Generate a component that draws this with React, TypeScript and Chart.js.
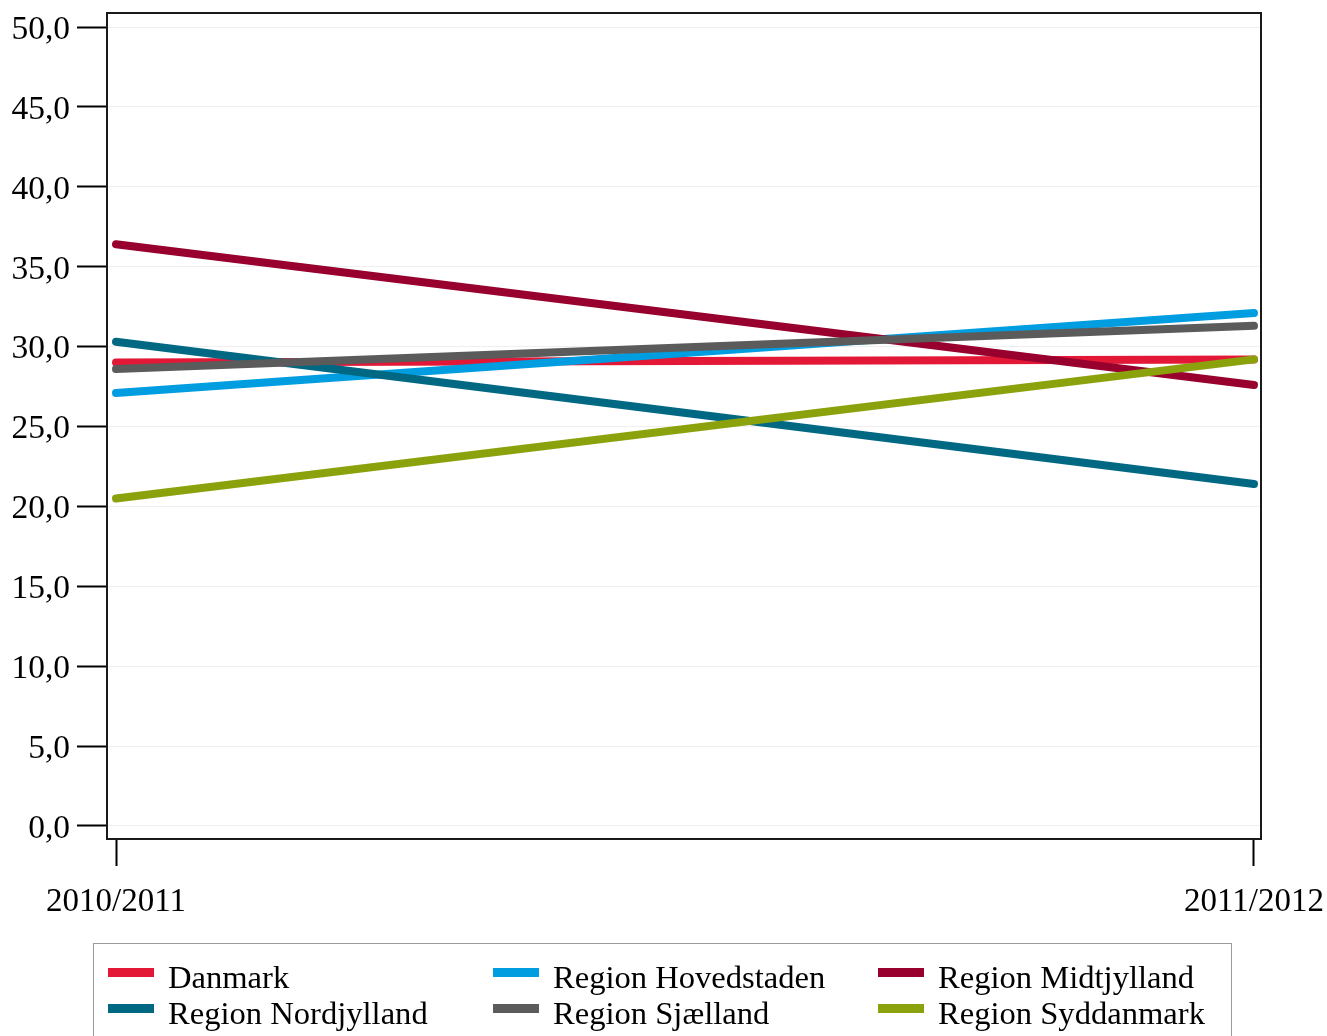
import React, { useEffect, useRef } from "react";
import { Chart, registerables } from "chart.js";

Chart.register(...registerables);

const periods = ["2010/2011", "2011/2012"];
const seriesNames = [
  "Danmark",
  "Region Hovedstaden",
  "Region Midtjylland",
  "Region Nordjylland",
  "Region Sjælland",
  "Region Syddanmark",
];
const danmark = [29.0, 29.2];
const hovedstaden = [27.1, 32.1];
const midtjylland = [36.4, 27.6];
const nordjylland = [30.3, 21.4];
const sjaelland = [28.6, 31.3];
const syddanmark = [20.5, 29.2];
const seriesValues = [danmark, hovedstaden, midtjylland, nordjylland, sjaelland, syddanmark];
const seriesColors = ["#E31837", "#009DE0", "#98002E", "#006883", "#5B5B5B", "#8CA20C"];
const yTickValues = [0, 5, 10, 15, 20, 25, 30, 35, 40, 45, 50];

const FONT = "'Liberation Serif', 'Times New Roman', serif";

const boxPlugin = {
  id: "boxPlugin",
  afterDatasetsDraw(chart: any) {
    const { ctx, chartArea } = chart;
    ctx.save();
    ctx.strokeStyle = "#1a1a1a";
    ctx.lineWidth = 2;
    ctx.strokeRect(chartArea.left, chartArea.top, chartArea.right - chartArea.left, chartArea.bottom - chartArea.top);
    ctx.restore();
  },
};

export default function App() {
  const canvasRef = useRef<HTMLCanvasElement | null>(null);

  useEffect(() => {
    if (!canvasRef.current) return;
    const datasets = seriesNames.map((name, i) => ({
      label: name,
      data: seriesValues[i].map((v, j) => ({ x: j, y: v })),
      borderColor: seriesColors[i],
      backgroundColor: seriesColors[i],
      borderWidth: 8,
      borderCapStyle: "round" as const,
      pointRadius: 0,
      fill: false,
      tension: 0,
      order: seriesNames.length - i,
    }));
    const chart = new Chart(canvasRef.current, {
      type: "line",
      data: { datasets },
      options: {
        animation: false,
        responsive: false,
        maintainAspectRatio: false,
        layout: { padding: { top: 13, right: 66, left: 0, bottom: 0 } },
        plugins: { legend: { display: false }, tooltip: { enabled: false } },
        scales: {
          x: {
            type: "linear",
            min: -9 / 1137,
            max: 1 + 7 / 1137,
            afterBuildTicks: (scale: any) => {
              scale.ticks = periods.map((_, i) => ({ value: i }));
            },
            afterFit: (scale: any) => {
              scale.height = 1036 - 839;
              scale.paddingLeft = 0;
              scale.paddingRight = 0;
            },
            ticks: {
              autoSkip: false,
              maxRotation: 0,
              padding: 17,
              color: "#000",
              font: { family: FONT, size: 33 },
              callback: (v: any) => periods[v as number] ?? "",
            },
            grid: {
              drawOnChartArea: false,
              drawTicks: true,
              tickLength: 27,
              tickColor: "#000",
              tickWidth: 2,
            },
            border: { display: false },
          },
          y: {
            type: "linear",
            min: -13 / 15.96,
            max: 50 + 14 / 15.96,
            afterBuildTicks: (scale: any) => {
              scale.ticks = yTickValues.map((v) => ({ value: v }));
            },
            afterFit: (scale: any) => {
              scale.width = 107;
              scale.paddingTop = 0;
              scale.paddingBottom = 0;
            },
            ticks: {
              autoSkip: false,
              padding: 7,
              labelOffset: 3,
              color: "#000",
              font: { family: FONT, size: 33.5 },
              callback: (v: any) => (v as number).toFixed(1).replace(".", ","),
            },
            grid: {
              color: "#efefef",
              lineWidth: 1,
              drawTicks: true,
              tickLength: 30,
              tickColor: "#000",
              tickWidth: 2,
            },
            border: { display: false },
          },
        },
      },
      plugins: [boxPlugin],
    });
    return () => chart.destroy();
  }, []);

  const colX = [108, 493, 878];
  const rowTextTop = [959, 995];
  const rowSwatchTop = [968, 1004];

  return (
    <div
      style={{
        position: "fixed",
        left: 0,
        top: 0,
        width: 1327,
        height: 1036,
        overflow: "hidden",
        background: "#fff",
        fontFamily: FONT,
      }}
    >
      <canvas ref={canvasRef} width={1327} height={1036} style={{ position: "absolute", left: 0, top: 0, width: 1327, height: 1036 }} />
      <div
        style={{
          position: "absolute",
          left: 93,
          top: 943,
          width: 1232 - 93,
          height: 120,
          border: "1px solid #9a9a9a",
          boxSizing: "border-box",
        }}
      />
      {seriesNames.map((name, i) => {
        const row = Math.floor(i / 3);
        const col = i % 3;
        return (
          <React.Fragment key={name}>
            <div
              style={{
                position: "absolute",
                left: colX[col],
                top: rowSwatchTop[row],
                width: 46,
                height: 9,
                background: seriesColors[i],
              }}
            />
            <div
              style={{
                position: "absolute",
                left: colX[col] + 60,
                top: rowTextTop[row],
                fontSize: 32.6,
                lineHeight: "36px",
                color: "#000",
                whiteSpace: "nowrap",
              }}
            >
              {name}
            </div>
          </React.Fragment>
        );
      })}
    </div>
  );
}
